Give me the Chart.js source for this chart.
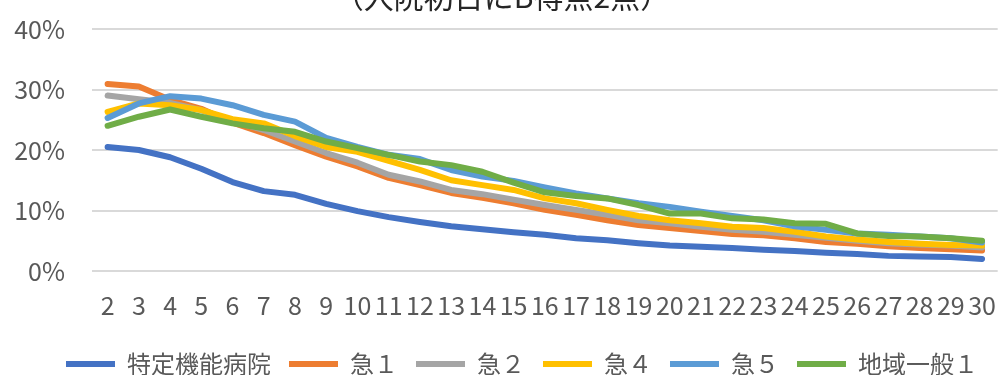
<!DOCTYPE html>
<html>
<head>
<meta charset="utf-8">
<script src="https://cdn.jsdelivr.net/npm/chart.js@4"></script>
<style>
  html, body { margin: 0; padding: 0; background: #fff; }
  #wrap { position: relative; width: 1007px; height: 375px; overflow: hidden; }
  #box { position: absolute; left: 0; top: -30px; width: 1007px; height: 430px; }
</style>
</head>
<body>
<div id="wrap"><div id="box"><canvas id="chart"></canvas></div></div>
<script>
const days = ['2','3','4','5','6','7','8','9','10','11','12','13','14','15','16','17','18','19','20','21','22','23','24','25','26','27','28','29','30'];
const tokutei = [20.5,20.0,18.8,16.9,14.7,13.2,12.6,11.1,9.9,8.9,8.1,7.4,6.9,6.4,6.0,5.4,5.1,4.6,4.2,4.0,3.8,3.5,3.3,3.0,2.8,2.5,2.4,2.3,2.0];
const kyu1 = [30.9,30.5,28.3,26.8,24.5,22.8,20.8,18.9,17.3,15.4,14.2,12.9,12.1,11.2,10.1,9.3,8.4,7.6,7.1,6.6,6.1,5.9,5.4,4.8,4.5,4.1,3.8,3.6,3.4];
const kyu2 = [29.0,28.4,27.8,26.6,24.8,23.3,21.4,19.5,17.9,15.9,14.8,13.4,12.7,11.8,10.9,10.1,9.3,8.4,7.9,7.3,6.8,6.5,6.0,5.5,5.0,4.6,4.4,4.2,3.9];
const kyu4 = [26.3,27.7,27.4,26.6,25.1,24.4,22.3,20.5,19.7,18.2,16.7,15.0,14.2,13.4,12.0,11.2,10.1,9.1,8.4,7.9,7.3,7.1,6.5,5.7,5.2,4.8,4.5,4.3,4.2];
const kyu5 = [25.3,27.7,28.9,28.5,27.4,25.8,24.7,22.0,20.5,19.2,18.5,16.7,15.6,14.9,13.8,12.8,12.0,11.2,10.6,9.8,9.1,8.4,7.4,6.8,6.2,6.0,5.7,5.4,4.7];
const chiiki = [24.0,25.5,26.7,25.5,24.4,23.6,23.0,21.4,20.3,19.2,18.1,17.5,16.4,14.6,13.0,12.4,12.0,10.9,9.5,9.5,8.7,8.5,7.9,7.8,6.2,5.8,5.7,5.4,5.0];
const yTicks = [0,10,20,30,40];

const font = '"Noto Sans CJK JP", "Noto Sans", sans-serif';
const series = [
  ['特定機能病院', tokutei, '#4472C4'],
  ['急１', kyu1, '#ED7D31'],
  ['急２', kyu2, '#A5A5A5'],
  ['急４', kyu4, '#FFC000'],
  ['急５', kyu5, '#5B9BD5'],
  ['地域一般１', chiiki, '#70AD47']
];

const datasets = series.map((s, i) => ({
  label: s[0], data: s[1], borderColor: s[2], backgroundColor: s[2],
  borderWidth: 6, pointRadius: 0, tension: 0, fill: false,
  borderCapStyle: 'round', borderJoinStyle: 'round',
  order: series.length - i  // later series on top, like the original
}));

// nudge the legend row a bit to the right
const legendShift = {
  id: 'legendShift',
  afterLayout(chart) { chart.legend.left += 40; }
};

new Chart(document.getElementById('chart').getContext('2d'), {
  type: 'line',
  data: { labels: days, datasets: datasets },
  plugins: [legendShift],
  options: {
    responsive: true, maintainAspectRatio: false, animation: false,
    layout: { padding: { left: 0, right: 3, top: 0, bottom: 14 } },
    plugins: {
      title: {
        display: true, text: '（入院初日にB得点2点）', color: '#262626',
        font: { family: font, size: 30, weight: 'normal' },
        padding: { top: 9, bottom: 14 }
      },
      legend: {
        position: 'bottom',
        labels: {
          usePointStyle: true, pointStyle: 'line', pointStyleWidth: 49,
          color: '#595959', font: { family: font, size: 24 }, padding: 18,
          sort: (a, b) => a.datasetIndex - b.datasetIndex
        }
      },
      tooltip: { enabled: false }
    },
    scales: {
      x: {
        offset: true,
        grid: { display: false }, border: { display: false },
        ticks: { color: '#595959', font: { family: font, size: 25 }, autoSkip: false, maxRotation: 0, padding: 11 },
        afterFit: s => { s.height = 63; }
      },
      y: {
        min: 0, max: 40,
        afterBuildTicks: s => { s.ticks = yTicks.map(v => ({ value: v })); },
        grid: { color: '#D9D9D9', lineWidth: 2, drawTicks: false }, border: { display: false },
        ticks: { color: '#595959', font: { family: font, size: 25 }, padding: 27, callback: v => v + '%' },
        afterFit: s => { s.width = 92; }
      }
    }
  }
});
</script>
</body>
</html>
